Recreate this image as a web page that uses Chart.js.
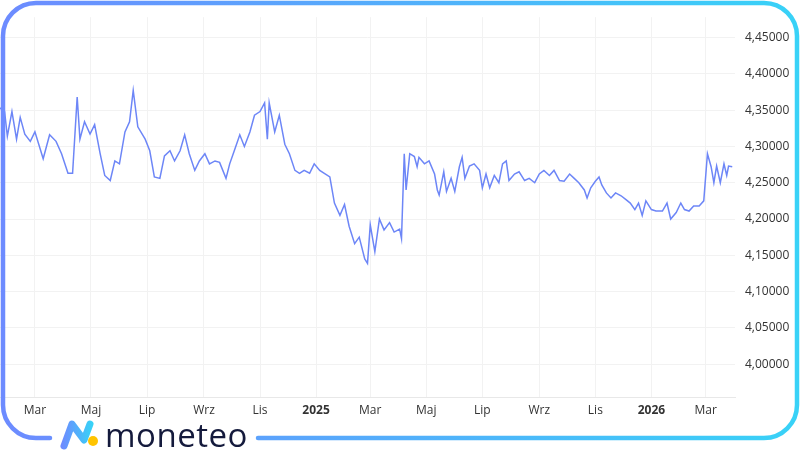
<!DOCTYPE html>
<html>
<head>
<meta charset="utf-8">
<script src="https://cdn.jsdelivr.net/npm/chart.js@4"></script>
<style>
  html, body { margin: 0; padding: 0; background: #fff; }
  #wrap { position: relative; width: 800px; height: 450px; overflow: hidden; }
  #chart { position: absolute; left: 0; top: 0; }
  #frame { position: absolute; left: 0; top: 0; pointer-events: none; }
  #logo { position: absolute; left: 105px; top: 412px; font: 500 33px "Open Sans", sans-serif; color: #141a3c; letter-spacing: 0.5px; }
</style>
</head>
<body>
<div id="wrap">
  <canvas id="chart" width="800" height="450"></canvas>
  <svg id="frame" width="800" height="450">
    <defs>
      <linearGradient id="g" x1="0" y1="0" x2="800" y2="0" gradientUnits="userSpaceOnUse">
        <stop offset="0" stop-color="#6d8bff"/>
        <stop offset="1" stop-color="#38d2f7"/>
      </linearGradient>
      <linearGradient id="gi" x1="62" y1="0" x2="92" y2="0" gradientUnits="userSpaceOnUse">
        <stop offset="0" stop-color="#6d8bff"/>
        <stop offset="1" stop-color="#38d2f7"/>
      </linearGradient>
    </defs>
    <path d="M 50 438 H 36 A 33 33 0 0 1 3 405 V 36 A 33 33 0 0 1 36 3 H 764 A 33 33 0 0 1 797 36 V 405 A 33 33 0 0 1 764 438 H 258"
          fill="none" stroke="url(#g)" stroke-width="4.5" stroke-linecap="round"/>
    <path d="M 64 446 L 72 424 L 84 440 L 90 424" fill="none" stroke="url(#gi)" stroke-width="7" stroke-linejoin="round" stroke-linecap="round"/>
    <circle cx="93" cy="441" r="5" fill="#ffc400"/>
  </svg>
  <div id="logo">moneteo</div>
</div>
<script>
// days since 2024-03-01
const days = [-38,-33,-30,-25,-20,-16,-11,-5,0,9,16,23,29,36,41,46,49,54,60,65,71,76,82,87,92,98,103,107,112,120,125,130,136,141,147,152,158,163,168,174,179,185,190,196,201,208,212,217,223,228,234,239,245,250,253,255,261,266,272,277,283,288,293,299,304,310,315,321,326,332,337,342,348,353,359,362,365,370,375,380,386,391,397,399,402,404,408,413,416,418,424,429,435,438,440,445,448,453,457,462,465,468,473,478,484,487,491,495,500,505,509,513,516,522,527,533,538,544,549,554,560,565,571,576,582,587,592,598,601,605,610,614,617,622,627,632,638,643,648,653,657,661,665,671,676,683,688,692,698,703,707,712,717,723,728,732,736,739,742,746,750,753,755,759];
const rates = [4.353,4.348,4.314,4.348,4.310,4.340,4.317,4.307,4.320,4.283,4.316,4.307,4.290,4.263,4.263,4.368,4.310,4.334,4.317,4.330,4.290,4.260,4.253,4.280,4.276,4.320,4.334,4.377,4.327,4.310,4.294,4.258,4.256,4.287,4.294,4.280,4.294,4.316,4.290,4.267,4.280,4.290,4.276,4.280,4.278,4.256,4.276,4.294,4.316,4.300,4.320,4.343,4.348,4.360,4.310,4.360,4.320,4.343,4.303,4.290,4.267,4.263,4.267,4.263,4.276,4.267,4.263,4.258,4.222,4.205,4.220,4.190,4.166,4.175,4.145,4.139,4.192,4.155,4.200,4.185,4.195,4.182,4.186,4.173,4.290,4.240,4.290,4.286,4.272,4.285,4.276,4.280,4.262,4.240,4.233,4.265,4.238,4.256,4.238,4.272,4.285,4.256,4.273,4.276,4.267,4.243,4.262,4.243,4.260,4.250,4.276,4.280,4.253,4.262,4.265,4.253,4.256,4.250,4.262,4.267,4.260,4.267,4.253,4.252,4.262,4.256,4.250,4.240,4.229,4.243,4.252,4.258,4.247,4.236,4.229,4.236,4.232,4.227,4.222,4.213,4.222,4.205,4.225,4.213,4.211,4.211,4.222,4.200,4.209,4.222,4.213,4.211,4.218,4.218,4.225,4.290,4.272,4.250,4.273,4.250,4.276,4.260,4.273,4.272];
const monthTicks = [0,61,122,184,245,306,365,426,487,549,610,671,730];
const monthLabels = ['Mar','Maj','Lip','Wrz','Lis','2025','Mar','Maj','Lip','Wrz','Lis','2026','Mar'];
const yTicks = [4.00,4.05,4.10,4.15,4.20,4.25,4.30,4.35,4.40,4.45];

const points = days.map((d, i) => ({ x: d, y: rates[i] }));

new Chart(document.getElementById('chart'), {
  type: 'line',
  data: {
    datasets: [{
      data: points,
      borderColor: '#6d86f7',
      borderWidth: 1.5,
      pointRadius: 0,
      tension: 0,
      fill: false,
    }],
  },
  options: {
    responsive: false,
    animation: false,
    layout: { padding: { left: 0, right: 0, top: 0, bottom: 26 } },
    plugins: { legend: { display: false }, tooltip: { enabled: false } },
    scales: {
      x: {
        type: 'linear',
        min: -38,
        max: 762,
        afterBuildTicks: axis => { axis.ticks = monthTicks.map(v => ({ value: v })); },
        ticks: {
          autoSkip: false,
          maxRotation: 0,
          color: '#333',
          padding: 6,
          font: ctx => ({ family: 'Open Sans', size: 12, weight: /^\d+$/.test(monthLabels[ctx.index] || '') ? 'bold' : 'normal' }),
          callback: (v, i) => monthLabels[i],
        },
        grid: { color: '#f2f2f2', drawTicks: false },
        border: { color: '#e8e8e8' },
      },
      y: {
        position: 'right',
        min: 3.954,
        max: 4.478,
        afterBuildTicks: axis => { axis.ticks = yTicks.map(v => ({ value: v })); },
        afterFit: axis => { axis.width = 65; },
        ticks: {
          color: '#333',
          padding: 10,
          font: { family: 'Open Sans', size: 12 },
          callback: v => v.toFixed(5).replace('.', ','),
        },
        grid: { color: '#f2f2f2', drawTicks: false },
        border: { display: false },
      },
    },
  },
});
</script>
</body>
</html>
